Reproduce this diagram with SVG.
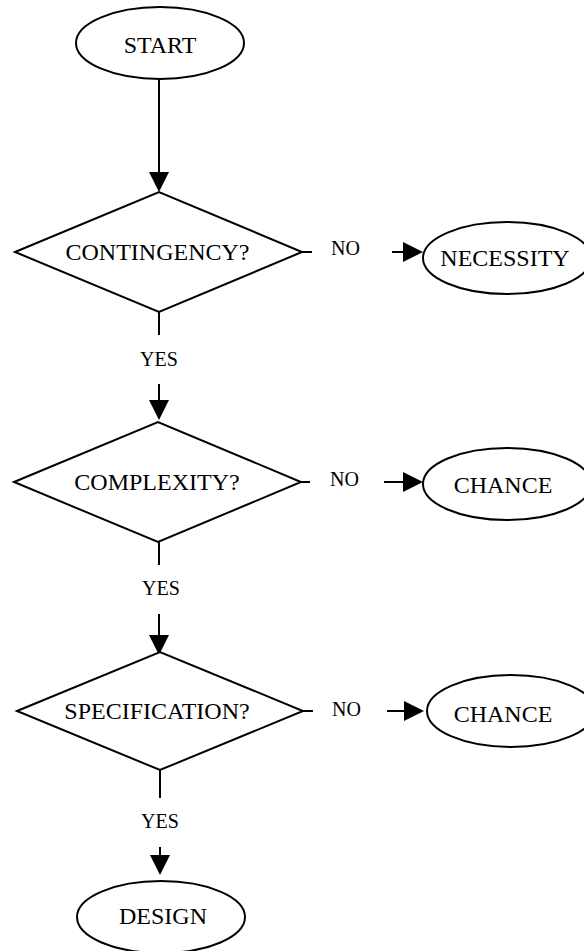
<svg xmlns="http://www.w3.org/2000/svg" width="584" height="951" viewBox="0 0 584 951">
<style>
.shape{fill:#fff;stroke:#000;stroke-width:2}
.node{font-family:"Liberation Serif","Times New Roman",serif;font-size:24px;fill:#000;text-anchor:middle}
.lbl{font-family:"Liberation Serif","Times New Roman",serif;font-size:20px;fill:#000}
.edge{stroke:#000;stroke-width:2;fill:none}
</style>
<defs>
<marker id="ah" viewBox="0 0 20 20" refX="0" refY="10" markerWidth="20" markerHeight="20" markerUnits="userSpaceOnUse" orient="auto">
<path d="M0,0 L20,10 L0,20 z" fill="#000"/>
</marker>
</defs>
<rect width="584" height="951" fill="#fff"/>
<g id="connectors">
<line class="edge" x1="159" y1="79" x2="159" y2="172" marker-end="url(#ah)"/>
<line class="edge" x1="159" y1="312" x2="159" y2="335"/>
<line class="edge" x1="159" y1="384" x2="159" y2="400" marker-end="url(#ah)"/>
<line class="edge" x1="302" y1="252" x2="312" y2="252"/>
<line class="edge" x1="392" y1="252" x2="403" y2="252" marker-end="url(#ah)"/>
<line class="edge" x1="159" y1="542" x2="159" y2="565"/>
<line class="edge" x1="159" y1="614" x2="159" y2="635" marker-end="url(#ah)"/>
<line class="edge" x1="301" y1="482" x2="310" y2="482"/>
<line class="edge" x1="384" y1="482" x2="403" y2="482" marker-end="url(#ah)"/>
<line class="edge" x1="160" y1="770" x2="160" y2="798"/>
<line class="edge" x1="160" y1="847" x2="160" y2="855" marker-end="url(#ah)"/>
<line class="edge" x1="303" y1="711" x2="313" y2="711"/>
<line class="edge" x1="387" y1="711" x2="404" y2="711" marker-end="url(#ah)"/>
<text class="lbl" x="159" y="366" text-anchor="middle">YES</text>
<text class="lbl" x="161" y="595" text-anchor="middle">YES</text>
<text class="lbl" x="160" y="828" text-anchor="middle">YES</text>
<text class="lbl" x="331" y="255">NO</text>
<text class="lbl" x="330" y="486">NO</text>
<text class="lbl" x="332" y="716">NO</text>
</g>
<g id="start">
<ellipse class="shape" cx="160" cy="43" rx="84" ry="36"/>
<text class="node" x="160" y="53">START</text>
</g>
<g id="contingency">
<polygon class="shape" points="15,252 159,192 302,252 159,312"/>
<text class="node" x="157.5" y="260">CONTINGENCY?</text>
</g>
<g id="necessity">
<ellipse class="shape" cx="507" cy="258" rx="84" ry="36"/>
<text class="node" x="505" y="266">NECESSITY</text>
</g>
<g id="complexity">
<polygon class="shape" points="14,482 158,422 301,482 158,542"/>
<text class="node" x="157" y="490">COMPLEXITY?</text>
</g>
<g id="chance1">
<ellipse class="shape" cx="507" cy="484" rx="84" ry="36"/>
<text class="node" x="503" y="493">CHANCE</text>
</g>
<g id="specification">
<polygon class="shape" points="17,711 160,652 303,711 160,770"/>
<text class="node" x="157" y="719">SPECIFICATION?</text>
</g>
<g id="chance2">
<ellipse class="shape" cx="511" cy="711" rx="84" ry="36"/>
<text class="node" x="503" y="722">CHANCE</text>
</g>
<g id="design">
<ellipse class="shape" cx="161" cy="917" rx="84" ry="36"/>
<text class="node" x="163" y="924">DESIGN</text>
</g>
</svg>
